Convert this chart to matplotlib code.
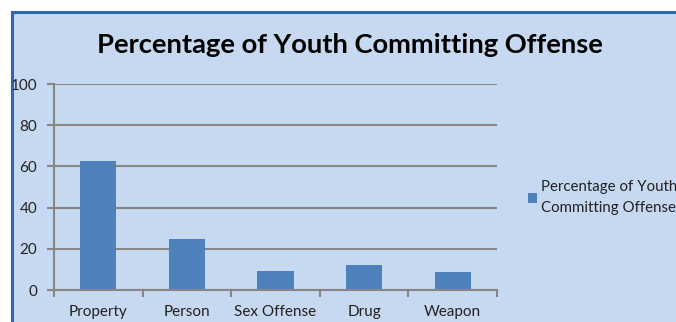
import matplotlib
matplotlib.use("Agg")
import matplotlib.pyplot as plt
from matplotlib.patches import Rectangle

categories = ["Property", "Person", "Sex Offense", "Drug", "Weapon"]
percentages = [62.4, 24.7, 9.4, 12.1, 8.5]
series_name = "Percentage of Youth\nCommitting Offense"
title = "Percentage of Youth Committing Offense"
yticks = [0, 20, 40, 60, 80, 100]

W, H = 676, 322
bg = "#C6D9F0"
bar_color = "#4F81BD"
grid_color = "#868686"

plt.rcParams["font.family"] = ["Lato", "DejaVu Sans"]

fig = plt.figure(figsize=(W / 100, H / 100), dpi=100)
fig.patch.set_facecolor("white")

# chart area panel with blue frame
panel = Rectangle((12 / W, -0.05), 1.1, 1 - 11.5 / H + 0.05,
                  transform=fig.transFigure, facecolor=bg,
                  edgecolor="#2A6AB0", linewidth=2.2, zorder=-5)
fig.patches.append(panel)

ax = fig.add_axes([54 / W, 1 - 290 / H, (497 - 54) / W, (290 - 84) / H])
ax.set_zorder(2)
ax.set_facecolor("none")

x = range(len(categories))
ax.bar(x, percentages, width=0.41, color=bar_color, zorder=3,
       label=series_name)

ax.set_xlim(-0.5, len(categories) - 0.5)
ax.set_ylim(0, 100)
ax.set_yticks(yticks)
ax.set_yticklabels([str(v) for v in yticks], fontsize=11, color="#222222")
ax.set_xticks(list(x))
ax.set_xticklabels(categories, fontsize=11, color="#222222")

# category boundary ticks on the x axis
ax.set_xticks([i - 0.5 for i in range(len(categories) + 1)], minor=True)
ax.tick_params(axis="x", which="major", length=0, pad=11)
ax.tick_params(axis="x", which="minor", length=5, width=1.5,
               color=grid_color, direction="out")
ax.tick_params(axis="y", length=5, width=1.5, color=grid_color,
               direction="out", pad=7)

ax.grid(axis="y", color=grid_color, linewidth=1.5, zorder=1)
for side in ("top", "right"):
    ax.spines[side].set_visible(False)
for side in ("left", "bottom"):
    ax.spines[side].set_color(grid_color)
    ax.spines[side].set_linewidth(1.5)
    ax.spines[side].set_zorder(4)

fig.text(350 / W, 1 - 45 / H, title, ha="center", va="center",
         fontsize=19.7, fontweight="bold", color="black", zorder=3)

leg = fig.legend(loc="upper left", bbox_to_anchor=(520 / W, 1 - 173 / H),
                 frameon=False, fontsize=10.8, handlelength=0.6,
                 handleheight=0.6, handletextpad=0.3, borderpad=0,
                 labelspacing=0.2)
leg.set_zorder(3)
for t in leg.get_texts():
    t.set_color("#222222")
    t.set_linespacing(1.55)

fig.savefig("out.png", dpi=100, facecolor=fig.get_facecolor())
